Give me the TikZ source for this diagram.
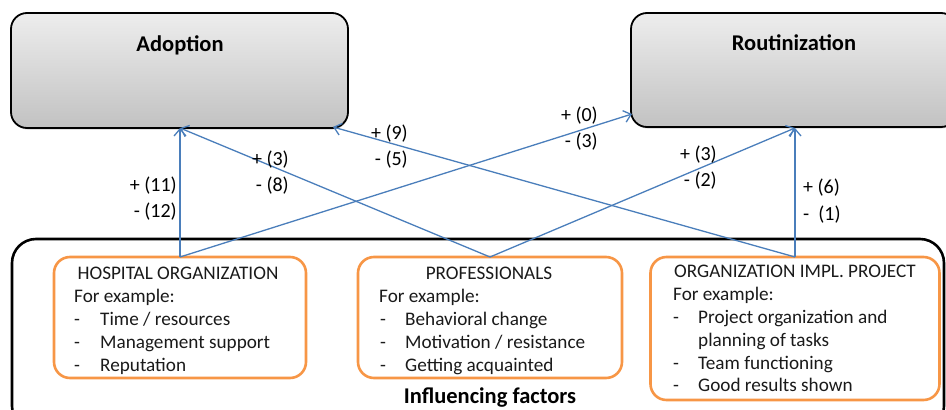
\documentclass[tikz,border=0pt]{standalone}
\usepackage{fontspec}
\setmainfont{Carlito}
\usetikzlibrary{arrows.meta,shadows}
\definecolor{arrowblue}{HTML}{4A7EBB}
\definecolor{boxorange}{HTML}{F79646}
\definecolor{textgray}{HTML}{1A1A1A}
\tikzset{
  topbox/.style={draw=black, line width=1.8pt, rounded corners=16pt,
    top color=gray!14, bottom color=gray!48,
    drop shadow={shadow xshift=0.5pt, shadow yshift=-1.5pt, opacity=0.35},
    inner sep=0pt},
  outerbox/.style={draw=black, line width=2.6pt, rounded corners=24pt},
  factorbox/.style={draw=boxorange, line width=2.6pt, rounded corners=16pt, fill=white},
  boxtitle/.style={font=\fontsize{22.5}{26}\selectfont\bfseries, inner sep=0pt},
  ftext/.style={font=\fontsize{19.2}{22.8}\selectfont, text=textgray, inner sep=0pt, anchor=base west},
  ftitle/.style={font=\fontsize{19.2}{22.8}\selectfont, text=textgray, inner sep=0pt, anchor=base},
  lbl/.style={font=\fontsize{20}{25.5}\selectfont, align=right, inner sep=0pt, anchor=north east},
  lbll/.style={font=\fontsize{20}{27}\selectfont, align=left, inner sep=0pt, anchor=north west},
  link/.style={draw=arrowblue, line width=1.3pt, -{Straight Barb[length=7pt, width=12pt, line width=1.3pt]}}
}
\begin{document}
\begin{tikzpicture}[x=1pt,y=-1pt]
\useasboundingbox (0,0) rectangle (946,410);
\clip (0,0) rectangle (946,410);

% outer influencing factors box
\draw[outerbox] (12,239) rectangle (944,430);
\node[boxtitle] (inf) at (490,398) {Influencing factors};

% top boxes
\node[topbox, minimum width=337pt, minimum height=115pt] (adopt) at (179.5,70.5) {};
\node[boxtitle] (adoptT) at (180,45) {Adoption};
\node[topbox, minimum width=326pt, minimum height=114pt] (rout) at (794,70) {};
\node[boxtitle] (routT) at (794,43) {Routinization};

% factor boxes
\node[factorbox, minimum width=252pt, minimum height=121pt] (hosp) at (180,317.5) {};
\node[factorbox, minimum width=264pt, minimum height=121pt] (prof) at (490,317.5) {};
\node[factorbox, minimum width=289pt, minimum height=143pt] (org) at (795,328.5) {};

% hospital text
\node[ftitle] (h0) at (178,279) {HOSPITAL ORGANIZATION};
\node[ftext] (h1) at (74,302) {For example:};
\node[ftext] (h2d) at (74,325) {-};
\node[ftext] (h2) at (100,325) {Time / resources};
\node[ftext] (h3d) at (74,348) {-};
\node[ftext] (h3) at (100,348) {Management support};
\node[ftext] (h4d) at (74,371) {-};
\node[ftext] (h4) at (100,371) {Reputation};

% professionals text
\node[ftitle] (p0) at (489,279) {PROFESSIONALS};
\node[ftext] (p1) at (379,302) {For example:};
\node[ftext] (p2d) at (380,325) {-};
\node[ftext] (p2) at (405,325) {Behavioral change};
\node[ftext] (p3d) at (380,348) {-};
\node[ftext] (p3) at (405,348) {Motivation / resistance};
\node[ftext] (p4d) at (380,371) {-};
\node[ftext] (p4) at (405,371) {Getting acquainted};

% organization text
\node[ftitle] (o0) at (795,277) {ORGANIZATION IMPL. PROJECT};
\node[ftext] (o1) at (673,300) {For example:};
\node[ftext] (o2d) at (673,323) {-};
\node[ftext] (o2) at (698,323) {Project organization and};
\node[ftext] (o2b) at (698,346) {planning of tasks};
\node[ftext] (o3d) at (673,369) {-};
\node[ftext] (o3) at (698,369) {Team functioning};
\node[ftext] (o4d) at (673,391) {-};
\node[ftext] (o4) at (698,391) {Good results shown};

% connection points
\coordinate (hs) at (180,257);
\coordinate (ps) at (490,257);
\coordinate (os) at (795,257);
\coordinate (ae) at (180,128);
\coordinate (ae2) at (333,127);
\coordinate (re) at (632,114);
\coordinate (re2) at (795,128);

\draw[link] (hs) -- (ae);
\draw[link] (hs) -- (re);
\draw[link] (ps) -- (ae);
\draw[link] (ps) -- (re2);
\draw[link] (os) -- (ae2);
\draw[link] (os) -- (re2);

% labels
\node[lbl] (l1) at (177,177) {+ (11)\\- (12)};
\node[lbl] (l2) at (289,151) {+ (3)\\- (8)};
\node[lbl] (l3) at (408,125) {+ (9)\\- (5)};
\node[lbl] (l4) at (598,107) {+ (0)\\- (3)};
\node[lbl] (l5) at (717,146) {+ (3)\\- (2)};
\node[lbll] (l6) at (803,179) {+ (6)\\-\ \ (1)};
\end{tikzpicture}
\end{document}
